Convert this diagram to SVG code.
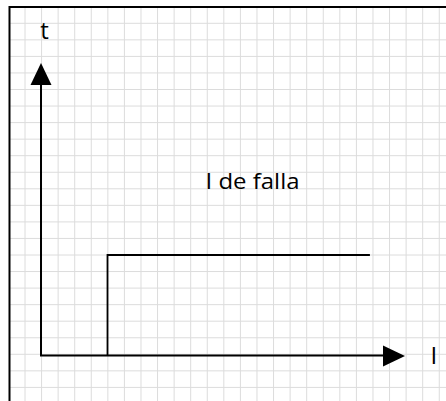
<svg xmlns="http://www.w3.org/2000/svg" width="446" height="401" viewBox="0 0 446 401">
<style>
.grid{stroke:#dcdcdc;stroke-width:1;fill:none}
.ax{stroke:#000;stroke-width:2;fill:none}
.lbl{font-family:"Open Sans","Liberation Sans",sans-serif;fill:#000}
</style>
<rect x="0" y="0" width="446" height="401" fill="#fff"/>
<g id="grid" class="grid">
<path d="M25 7V401M41.57 7V401M58.14 7V401M74.71 7V401M91.28 7V401M107.85 7V401M124.42 7V401M140.99 7V401M157.56 7V401M174.13 7V401M190.7 7V401M207.27 7V401M223.84 7V401M240.41 7V401M256.98 7V401M273.55 7V401M290.12 7V401M306.69 7V401M323.26 7V401M339.83 7V401M356.4 7V401M372.97 7V401M389.54 7V401M406.11 7V401M422.68 7V401M439.25 7V401"/>
<path d="M9 23.3H446M9 39.85H446M9 56.4H446M9 72.95H446M9 89.5H446M9 106.05H446M9 122.6H446M9 139.15H446M9 155.7H446M9 172.25H446M9 188.8H446M9 205.35H446M9 221.9H446M9 238.45H446M9 255H446M9 271.55H446M9 288.1H446M9 304.65H446M9 321.2H446M9 337.75H446M9 354.3H446M9 370.85H446M9 387.4H446"/>
</g>
<g id="frame"><path d="M9.5 401V7H446" stroke="#000" stroke-width="2" fill="none"/></g>
<g id="axes">
<path class="ax" d="M41 80V355.5H388"/>
<polygon points="41,63 30.5,85 51.5,85" fill="#000"/>
<polygon points="383,345.5 405,356 383,366.5" fill="#000"/>
</g>
<g id="curve"><path d="M107.5 355.5V255H369L369 256" stroke="#000" stroke-width="1.8" fill="none"/></g>
<g id="labels">
<text class="lbl" x="44.5" y="39.3" font-size="24" text-anchor="middle">t</text>
<text class="lbl" x="433.8" y="364" font-size="24" text-anchor="middle">I</text>
<text class="lbl" x="205.5" y="189.3" font-size="21" textLength="94" lengthAdjust="spacingAndGlyphs">I de falla</text>
</g>
</svg>
